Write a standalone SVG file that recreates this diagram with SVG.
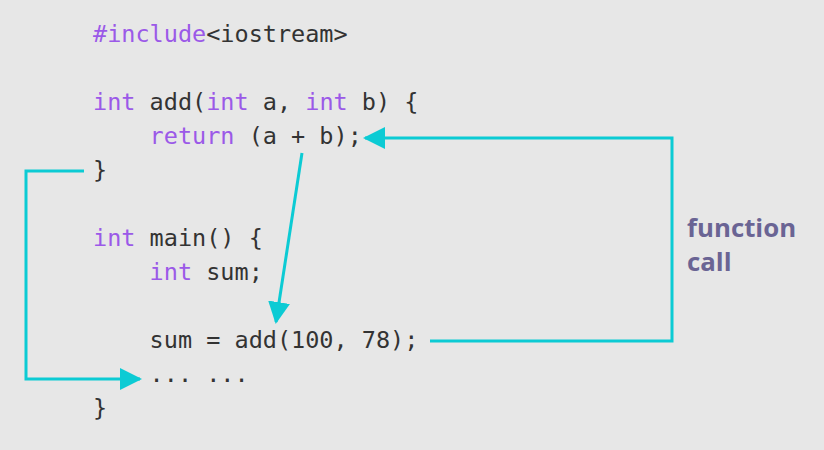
<svg xmlns="http://www.w3.org/2000/svg" width="824" height="450" viewBox="0 0 824 450">
<style>
.code{font-family:"DejaVu Sans Mono","Liberation Mono",monospace;font-size:23.5px;fill:#333333;white-space:pre}
.kw{fill:#9b59e8}
.conn{fill:none;stroke:#0ccbd4;stroke-width:3}
.label{font-family:"Open Sans","Noto Sans",sans-serif;font-weight:bold;font-size:25.8px;fill:#6a6494}
</style>
<defs>
<marker id="ah" viewBox="0 0 22 22" refX="20" refY="11" markerWidth="22" markerHeight="22" markerUnits="userSpaceOnUse" orient="auto">
<path d="M0,0 L22,11 L0,22 Z" fill="#0ccbd4"/>
</marker>
</defs>
<rect width="824" height="450" fill="#e7e7e7"/>
<g id="code">
<text class="code" x="93" y="42" xml:space="preserve"><tspan class="kw">#include</tspan>&lt;iostream&gt;</text>
<text class="code" x="93" y="110" xml:space="preserve"><tspan class="kw">int</tspan> add(<tspan class="kw">int</tspan> a, <tspan class="kw">int</tspan> b) {</text>
<text class="code" x="93" y="144" xml:space="preserve">    <tspan class="kw">return</tspan> (a + b);</text>
<text class="code" x="93" y="178" xml:space="preserve">}</text>
<text class="code" x="93" y="246" xml:space="preserve"><tspan class="kw">int</tspan> main() {</text>
<text class="code" x="93" y="280" xml:space="preserve">    <tspan class="kw">int</tspan> sum;</text>
<text class="code" x="93" y="348" xml:space="preserve">    sum = add(100, 78);</text>
<text class="code" x="93" y="382" xml:space="preserve">    ... ...</text>
<text class="code" x="93" y="416" xml:space="preserve">}</text>
</g>
<g id="label">
<text class="label" x="687" y="237">function</text>
<text class="label" x="687" y="271">call</text>
</g>
<g id="connectors">
<path class="conn" d="M430,341 H672 V138 H365" marker-end="url(#ah)"/>
<path class="conn" d="M302,153 L276,322" marker-end="url(#ah)"/>
<path class="conn" d="M84,171 H26 V379 H140" marker-end="url(#ah)"/>
</g>
</svg>
